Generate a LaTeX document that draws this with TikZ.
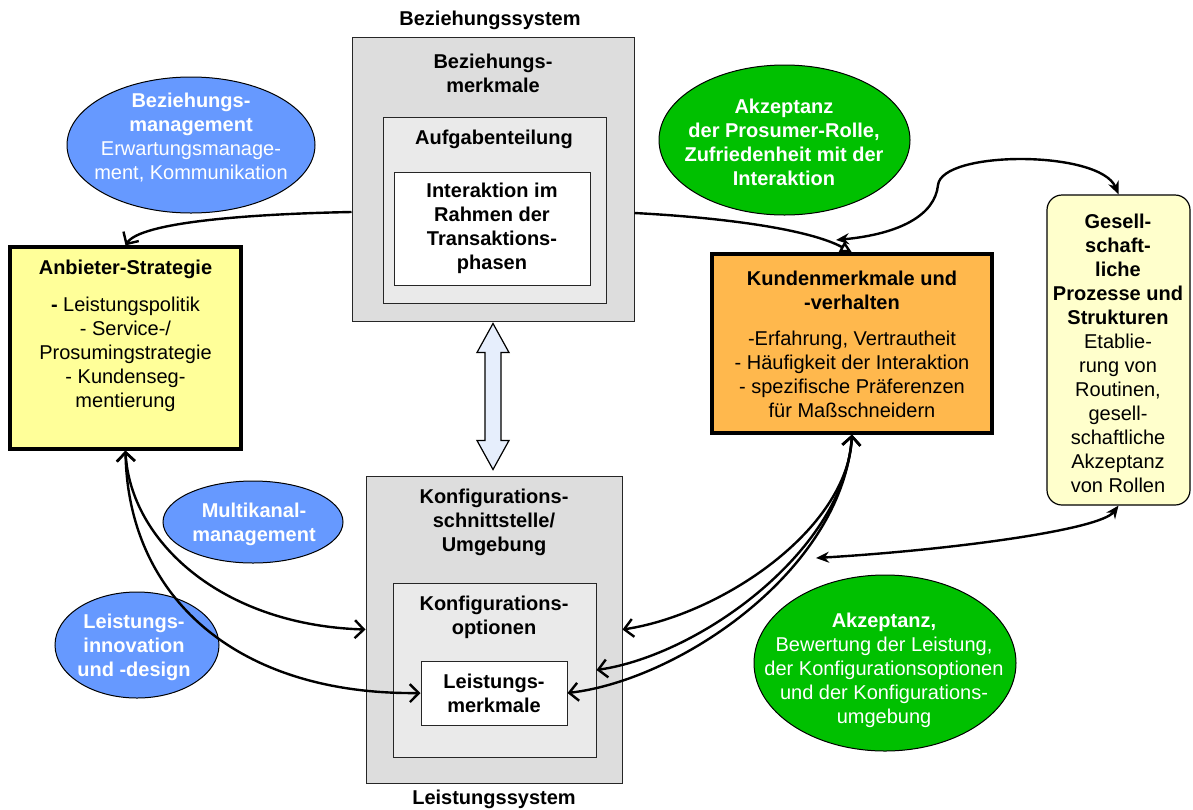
\documentclass[tikz,border=0pt]{standalone}
\usepackage{fontspec}
\setmainfont{Liberation Sans}
\usetikzlibrary{arrows.meta,calc,shapes.geometric}
\definecolor{OuterClr}{RGB}{221,221,221}
\definecolor{InnerClr}{RGB}{234,234,234}
\definecolor{StratClr}{RGB}{255,255,153}
\definecolor{KundeClr}{RGB}{255,184,77}
\definecolor{SozClr}{RGB}{255,255,204}
\definecolor{BlueClr}{RGB}{102,153,255}
\definecolor{GreenClr}{RGB}{0,192,0}
\definecolor{ArrowClr}{RGB}{230,238,252}

\tikzset{
  txt/.style={align=center,inner sep=0pt,font=\fontsize{10}{12}\selectfont},
  btxt/.style={txt,font=\fontsize{10}{12}\selectfont\bfseries},
  wtxt/.style={txt,text=white},
  sysbox/.style={draw=black!85,line width=0.5pt,inner sep=0pt},
  mainbox/.style={draw=black,line width=1.6pt,inner sep=0pt},
  ell/.style={ellipse,draw=black,line width=0.5pt,inner sep=0pt},
  conn/.style={line width=1.2pt},
  barb/.style={conn,<->},
  sharp/.style={conn,{Stealth[length=6.5pt,width=5.5pt]}-{Stealth[length=6.5pt,width=5.5pt]}}
}

\begin{document}
\begin{tikzpicture}[x=0.5pt,y=-0.5pt,>={Straight Barb[length=4.5pt,width=9pt]}]
\useasboundingbox (0,0) rectangle (1193,809);

% Beziehungssystem (top centre)
\node[btxt] (bezsys) at (490,20) {Beziehungssystem};
\node[sysbox,fill=OuterClr,minimum width=141pt,minimum height=142pt] (bez) at (493,179) {};
\node[sysbox,fill=InnerClr,minimum width=111.5pt,minimum height=93pt] (auf) at (494.5,210) {};
\node[sysbox,btxt,fill=white,minimum width=98pt,minimum height=56.5pt] (inter) at (492,228.5)
  {Interaktion im\\Rahmen der\\Transaktions-\\phasen};
\node[btxt] (bezt) at (493,73) {Beziehungs-\\merkmale};
\node[btxt] (auft) at (494,139) {Aufgabenteilung};

% Leistungssystem (bottom centre)
\node[sysbox,fill=OuterClr,minimum width=128pt,minimum height=153.5pt] (konf) at (494,629.5) {};
\node[sysbox,fill=InnerClr,minimum width=101.5pt,minimum height=87pt] (kopt) at (494.5,670) {};
\node[sysbox,btxt,fill=white,minimum width=73pt,minimum height=32pt] (lmk) at (494,693)
  {Leistungs-\\merkmale};
\node[btxt] (konft) at (494,522) {Konfigurations-\\schnittstelle/\\Umgebung};
\node[btxt] (koptt) at (494,617) {Konfigurations-\\optionen};
\node[btxt] (leisys) at (494,799) {Leistungssystem};

% Double arrow between the two systems
\draw[fill=ArrowClr,line width=0.6pt] ([yshift=-1pt]bez.south) -- ++(16,29) -- ++(-8,0)
  -- ++(0,88) -- ++(8,0) -- ++(-16,29) -- ++(-16,-29) -- ++(8,0) -- ++(0,-88) -- ++(-8,0) -- cycle;

% Anbieter and Kunde
\node[mainbox,fill=StratClr,minimum width=115.5pt,minimum height=101pt] (anb) at (125.5,348) {};
\node[txt] (anbt) at (125.5,336) {\textbf{Anbieter-Strategie}\\[6.5pt]\textbf{-} Leistungspolitik\\- Service-/\\Prosumingstrategie\\- Kundenseg-\\mentierung};
\node[mainbox,fill=KundeClr,minimum width=140pt,minimum height=89.5pt] (kun) at (852,343.5) {};
\node[txt] (kunt) at (852,344) {\textbf{Kundenmerkmale und}\\\textbf{-verhalten}\\[6pt]-Erfahrung, Vertrautheit\\- Häufigkeit der Interaktion\\- spezifische Präferenzen\\für Maßschneidern};

% Gesellschaft
\node[draw=black,line width=0.6pt,rounded corners=7.5pt,fill=SozClr,minimum width=71.5pt,minimum height=155pt] (ges) at (1118.5,350) {};
\node[txt] (gest) at (1118,353.5) {\textbf{Gesell-}\\\textbf{schaft-}\\\textbf{liche}\\\textbf{Prozesse und}\\\textbf{Strukturen}\\Etablie-\\rung von\\Routinen,\\gesell-\\schaftliche\\Akzeptanz\\von Rollen};

% Ellipses
\node[ell,fill=BlueClr,minimum width=124pt,minimum height=68pt] (bm) at (191,145) {};
\node[wtxt] (bmt) at (191,138) {\textbf{Beziehungs-}\\\textbf{management}\\Erwartungsmanage-\\ment, Kommunikation};
\node[ell,fill=GreenClr,minimum width=125.5pt,minimum height=75pt] (akz) at (784.5,140) {};
\node[wtxt,font=\fontsize{10}{12}\selectfont\bfseries] (akzt) at (784,142.5) {Akzeptanz\\der Prosumer-Rolle,\\Zufriedenheit mit der\\Interaktion};
\node[ell,fill=BlueClr,minimum width=90pt,minimum height=41pt] (mk) at (253,522) {};
\node[wtxt,font=\fontsize{10}{12}\selectfont\bfseries] (mkt) at (254,524) {Multikanal-\\management};
\node[ell,fill=BlueClr,minimum width=82pt,minimum height=53pt] (li) at (137,645) {};
\node[wtxt,font=\fontsize{10}{12}\selectfont\bfseries] (lit) at (134,647) {Leistungs-\\innovation\\und -design};
\node[ell,fill=GreenClr,minimum width=131pt,minimum height=88pt] (bew) at (885,663) {};
\node[wtxt] (bewt) at (884,670.5) {\textbf{Akzeptanz,}\\Bewertung der Leistung,\\der Konfigurationsoptionen\\und der Konfigurations-\\umgebung};

% Connectors
\coordinate (kt) at (836,240);
\coordinate (gk) at (816,558);
\draw[conn,->] ([yshift=-16.5pt]bez.west) .. controls (250,214) and (140,222) .. (anb.north);
\draw[conn,-{Triangle[open,length=6pt,width=6pt]}] ([yshift=-17pt]bez.east) .. controls (730,218) and (810,230) .. (kun.north);
\draw[sharp] (kt) .. controls (900,234) and (935,215) .. (938,185) .. controls (942,150) and (1100,150) .. (ges.north);
\draw[barb] (anb.south) .. controls (130,540) and (220,625) .. (konf.west);
\draw[barb] (anb.south) .. controls (128,600) and (240,695) .. (lmk.west);
\draw[barb] (kun.south) .. controls (848,530) and (720,615) .. (konf.east);
\draw[barb] (kun.south) .. controls (845,550) and (700,655) .. (kopt.east);
\draw[barb] (kun.south) .. controls (842,570) and (680,680) .. (lmk.east);
\draw[sharp] (ges.south) .. controls (1100,530) and (950,550) .. (gk);

\end{tikzpicture}
\end{document}
